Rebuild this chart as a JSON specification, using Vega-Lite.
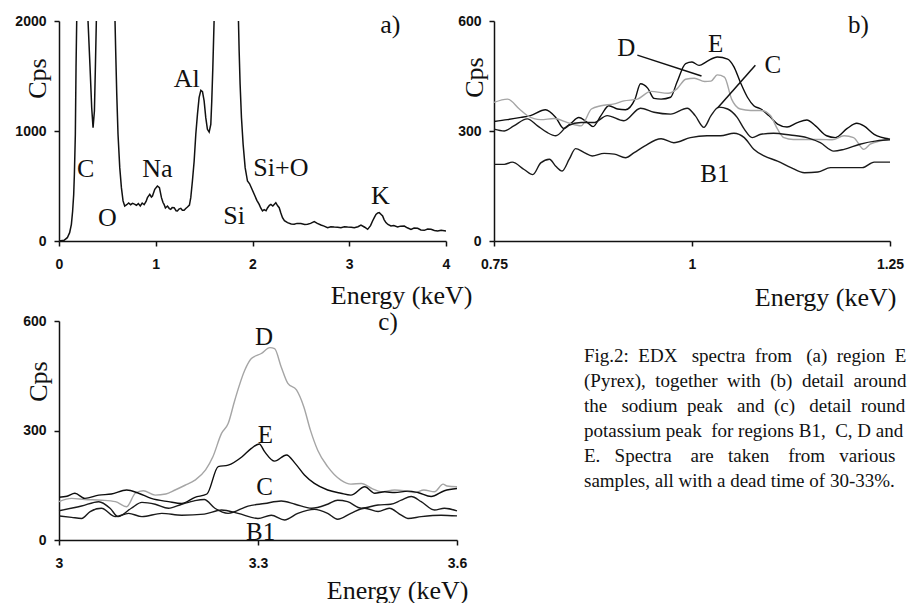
{
  "$schema": "https://vega.github.io/schema/vega-lite/v6.json",
  "background": "white",
  "padding": {"left": 14, "top": 11, "right": 0, "bottom": 0},
  "columns": 2,
  "bounds": "flush",
  "align": "each",
  "spacing": {"row": 80, "column": 37},
  "datasets": {
    "specA": [
      {"e":0,"cps":0},{"e":0.052,"cps":6},{"e":0.086,"cps":30},{"e":0.11,"cps":76},{"e":0.128,"cps":152},{"e":0.141,"cps":273},{"e":0.152,"cps":424},{"e":0.159,"cps":606},{"e":0.169,"cps":970},{"e":0.176,"cps":1576},{"e":0.183,"cps":2000},{"e":0.19,"cps":3500},{"e":0.293,"cps":3500},{"e":0.3,"cps":2000},{"e":0.321,"cps":1576},{"e":0.338,"cps":1212},{"e":0.352,"cps":1030},{"e":0.366,"cps":1182},{"e":0.376,"cps":1576},{"e":0.386,"cps":2000},{"e":0.393,"cps":3500},{"e":0.572,"cps":3500},{"e":0.579,"cps":2000},{"e":0.586,"cps":1727},{"e":0.597,"cps":1333},{"e":0.61,"cps":970},{"e":0.628,"cps":667},{"e":0.645,"cps":485},{"e":0.662,"cps":364},{"e":0.679,"cps":318},{"e":0.7,"cps":330},{"e":0.72,"cps":345},{"e":0.74,"cps":330},{"e":0.76,"cps":342},{"e":0.78,"cps":335},{"e":0.8,"cps":325},{"e":0.82,"cps":340},{"e":0.84,"cps":318},{"e":0.86,"cps":345},{"e":0.88,"cps":330},{"e":0.9,"cps":360},{"e":0.914,"cps":394},{"e":0.938,"cps":424},{"e":0.955,"cps":400},{"e":0.966,"cps":409},{"e":0.99,"cps":470},{"e":1.017,"cps":500},{"e":1.038,"cps":485},{"e":1.059,"cps":394},{"e":1.075,"cps":350},{"e":1.086,"cps":333},{"e":1.1,"cps":300},{"e":1.121,"cps":318},{"e":1.14,"cps":295},{"e":1.155,"cps":288},{"e":1.17,"cps":305},{"e":1.19,"cps":303},{"e":1.21,"cps":275},{"e":1.224,"cps":273},{"e":1.24,"cps":290},{"e":1.259,"cps":297},{"e":1.275,"cps":280},{"e":1.293,"cps":279},{"e":1.31,"cps":295},{"e":1.328,"cps":309},{"e":1.348,"cps":327},{"e":1.362,"cps":394},{"e":1.379,"cps":545},{"e":1.397,"cps":727},{"e":1.414,"cps":970},{"e":1.431,"cps":1151},{"e":1.448,"cps":1303},{"e":1.466,"cps":1370},{"e":1.483,"cps":1357},{"e":1.5,"cps":1273},{"e":1.517,"cps":1121},{"e":1.534,"cps":1015},{"e":1.552,"cps":991},{"e":1.569,"cps":1061},{"e":1.579,"cps":1273},{"e":1.59,"cps":1576},{"e":1.603,"cps":2000},{"e":1.61,"cps":3500},{"e":1.848,"cps":3500},{"e":1.855,"cps":2000},{"e":1.862,"cps":1727},{"e":1.872,"cps":1424},{"e":1.886,"cps":1121},{"e":1.903,"cps":879},{"e":1.924,"cps":667},{"e":1.948,"cps":545},{"e":1.97,"cps":520},{"e":1.995,"cps":470},{"e":2.02,"cps":420},{"e":2.045,"cps":370},{"e":2.069,"cps":333},{"e":2.085,"cps":300},{"e":2.103,"cps":273},{"e":2.12,"cps":285},{"e":2.14,"cps":275},{"e":2.155,"cps":300},{"e":2.175,"cps":325},{"e":2.19,"cps":333},{"e":2.21,"cps":318},{"e":2.241,"cps":348},{"e":2.26,"cps":320},{"e":2.276,"cps":303},{"e":2.293,"cps":255},{"e":2.31,"cps":212},{"e":2.33,"cps":185},{"e":2.362,"cps":167},{"e":2.4,"cps":155},{"e":2.431,"cps":152},{"e":2.46,"cps":160},{"e":2.5,"cps":158},{"e":2.54,"cps":150},{"e":2.569,"cps":152},{"e":2.6,"cps":160},{"e":2.638,"cps":176},{"e":2.67,"cps":160},{"e":2.707,"cps":145},{"e":2.74,"cps":135},{"e":2.776,"cps":121},{"e":2.81,"cps":130},{"e":2.845,"cps":127},{"e":2.88,"cps":125},{"e":2.914,"cps":121},{"e":2.95,"cps":130},{"e":2.983,"cps":127},{"e":3.02,"cps":125},{"e":3.052,"cps":121},{"e":3.09,"cps":130},{"e":3.121,"cps":145},{"e":3.16,"cps":125},{"e":3.19,"cps":106},{"e":3.22,"cps":140},{"e":3.241,"cps":182},{"e":3.26,"cps":215},{"e":3.276,"cps":242},{"e":3.295,"cps":255},{"e":3.31,"cps":258},{"e":3.33,"cps":240},{"e":3.345,"cps":227},{"e":3.36,"cps":195},{"e":3.379,"cps":167},{"e":3.4,"cps":150},{"e":3.431,"cps":136},{"e":3.46,"cps":140},{"e":3.5,"cps":127},{"e":3.53,"cps":135},{"e":3.569,"cps":136},{"e":3.6,"cps":120},{"e":3.638,"cps":106},{"e":3.67,"cps":118},{"e":3.707,"cps":115},{"e":3.74,"cps":100},{"e":3.776,"cps":97},{"e":3.81,"cps":108},{"e":3.845,"cps":106},{"e":3.88,"cps":95},{"e":3.914,"cps":91},{"e":3.95,"cps":98},{"e":4.0,"cps":91}
    ],
    "labA": [
      {"e":0.276,"cps":651,"t":"C"},{"e":0.5,"cps":212,"t":"O"},{"e":1.017,"cps":654,"t":"Na"},{"e":1.321,"cps":1470,"t":"Al"},{"e":2.293,"cps":661,"t":"Si+O"},{"e":1.81,"cps":224,"t":"Si"},{"e":3.321,"cps":409,"t":"K"},{"e":3.424,"cps":1964,"t":"a)"}
    ],
    "specB": [
      {"s":"E","e":0.75,"cps":326},{"s":"E","e":0.767,"cps":331},{"s":"E","e":0.784,"cps":337},{"s":"E","e":0.796,"cps":342},{"s":"E","e":0.815,"cps":358},{"s":"E","e":0.828,"cps":337},{"s":"E","e":0.838,"cps":307},{"s":"E","e":0.847,"cps":321},{"s":"E","e":0.857,"cps":337},{"s":"E","e":0.868,"cps":323},{"s":"E","e":0.875,"cps":312},{"s":"E","e":0.885,"cps":342},{"s":"E","e":0.895,"cps":369},{"s":"E","e":0.906,"cps":360},{"s":"E","e":0.916,"cps":358},{"s":"E","e":0.928,"cps":387},{"s":"E","e":0.935,"cps":429},{"s":"E","e":0.944,"cps":417},{"s":"E","e":0.952,"cps":389},{"s":"E","e":0.961,"cps":387},{"s":"E","e":0.973,"cps":392},{"s":"E","e":0.981,"cps":433},{"s":"E","e":0.992,"cps":484},{"s":"E","e":1.0,"cps":488},{"s":"E","e":1.009,"cps":479},{"s":"E","e":1.019,"cps":490},{"s":"E","e":1.032,"cps":502},{"s":"E","e":1.045,"cps":496},{"s":"E","e":1.053,"cps":475},{"s":"E","e":1.061,"cps":433},{"s":"E","e":1.07,"cps":392},{"s":"E","e":1.078,"cps":369},{"s":"E","e":1.087,"cps":360},{"s":"E","e":1.097,"cps":342},{"s":"E","e":1.108,"cps":319},{"s":"E","e":1.12,"cps":311},{"s":"E","e":1.133,"cps":323},{"s":"E","e":1.145,"cps":330},{"s":"E","e":1.156,"cps":314},{"s":"E","e":1.17,"cps":287},{"s":"E","e":1.181,"cps":282},{"s":"E","e":1.196,"cps":307},{"s":"E","e":1.208,"cps":321},{"s":"E","e":1.217,"cps":314},{"s":"E","e":1.23,"cps":291},{"s":"E","e":1.25,"cps":278},
      {"s":"D","e":0.75,"cps":378},{"s":"D","e":0.767,"cps":387},{"s":"D","e":0.782,"cps":360},{"s":"D","e":0.792,"cps":342},{"s":"D","e":0.809,"cps":331},{"s":"D","e":0.826,"cps":334},{"s":"D","e":0.843,"cps":323},{"s":"D","e":0.86,"cps":314},{"s":"D","e":0.873,"cps":360},{"s":"D","e":0.885,"cps":369},{"s":"D","e":0.902,"cps":374},{"s":"D","e":0.914,"cps":382},{"s":"D","e":0.931,"cps":387},{"s":"D","e":0.948,"cps":408},{"s":"D","e":0.97,"cps":403},{"s":"D","e":0.981,"cps":415},{"s":"D","e":0.992,"cps":441},{"s":"D","e":1.003,"cps":444},{"s":"D","e":1.016,"cps":435},{"s":"D","e":1.024,"cps":436},{"s":"D","e":1.032,"cps":453},{"s":"D","e":1.041,"cps":447},{"s":"D","e":1.05,"cps":387},{"s":"D","e":1.061,"cps":360},{"s":"D","e":1.074,"cps":356},{"s":"D","e":1.087,"cps":356},{"s":"D","e":1.099,"cps":342},{"s":"D","e":1.108,"cps":305},{"s":"D","e":1.116,"cps":282},{"s":"D","e":1.128,"cps":277},{"s":"D","e":1.145,"cps":277},{"s":"D","e":1.162,"cps":277},{"s":"D","e":1.177,"cps":276},{"s":"D","e":1.192,"cps":287},{"s":"D","e":1.204,"cps":282},{"s":"D","e":1.217,"cps":250},{"s":"D","e":1.225,"cps":264},{"s":"D","e":1.238,"cps":273},{"s":"D","e":1.25,"cps":278},
      {"s":"C","e":0.75,"cps":305},{"s":"C","e":0.763,"cps":300},{"s":"C","e":0.775,"cps":314},{"s":"C","e":0.792,"cps":333},{"s":"C","e":0.805,"cps":314},{"s":"C","e":0.817,"cps":296},{"s":"C","e":0.828,"cps":287},{"s":"C","e":0.843,"cps":314},{"s":"C","e":0.86,"cps":323},{"s":"C","e":0.876,"cps":323},{"s":"C","e":0.893,"cps":342},{"s":"C","e":0.914,"cps":328},{"s":"C","e":0.935,"cps":362},{"s":"C","e":0.952,"cps":351},{"s":"C","e":0.973,"cps":346},{"s":"C","e":0.994,"cps":362},{"s":"C","e":1.004,"cps":342},{"s":"C","e":1.015,"cps":310},{"s":"C","e":1.024,"cps":342},{"s":"C","e":1.034,"cps":365},{"s":"C","e":1.045,"cps":360},{"s":"C","e":1.057,"cps":337},{"s":"C","e":1.066,"cps":305},{"s":"C","e":1.076,"cps":282},{"s":"C","e":1.087,"cps":291},{"s":"C","e":1.103,"cps":294},{"s":"C","e":1.124,"cps":289},{"s":"C","e":1.145,"cps":282},{"s":"C","e":1.162,"cps":268},{"s":"C","e":1.179,"cps":245},{"s":"C","e":1.192,"cps":250},{"s":"C","e":1.212,"cps":264},{"s":"C","e":1.233,"cps":273},{"s":"C","e":1.25,"cps":276},
      {"s":"B1","e":0.75,"cps":209},{"s":"B1","e":0.763,"cps":209},{"s":"B1","e":0.773,"cps":215},{"s":"B1","e":0.788,"cps":195},{"s":"B1","e":0.799,"cps":181},{"s":"B1","e":0.809,"cps":213},{"s":"B1","e":0.82,"cps":223},{"s":"B1","e":0.828,"cps":204},{"s":"B1","e":0.836,"cps":191},{"s":"B1","e":0.845,"cps":223},{"s":"B1","e":0.853,"cps":252},{"s":"B1","e":0.864,"cps":241},{"s":"B1","e":0.874,"cps":232},{"s":"B1","e":0.889,"cps":239},{"s":"B1","e":0.902,"cps":237},{"s":"B1","e":0.916,"cps":227},{"s":"B1","e":0.927,"cps":241},{"s":"B1","e":0.94,"cps":259},{"s":"B1","e":0.961,"cps":279},{"s":"B1","e":0.977,"cps":268},{"s":"B1","e":0.998,"cps":282},{"s":"B1","e":1.019,"cps":287},{"s":"B1","e":1.036,"cps":287},{"s":"B1","e":1.053,"cps":294},{"s":"B1","e":1.066,"cps":282},{"s":"B1","e":1.078,"cps":250},{"s":"B1","e":1.091,"cps":232},{"s":"B1","e":1.108,"cps":218},{"s":"B1","e":1.125,"cps":200},{"s":"B1","e":1.142,"cps":186},{"s":"B1","e":1.159,"cps":188},{"s":"B1","e":1.175,"cps":200},{"s":"B1","e":1.196,"cps":200},{"s":"B1","e":1.215,"cps":200},{"s":"B1","e":1.23,"cps":215},{"s":"B1","e":1.25,"cps":215}
    ],
    "labB": [
      {"e":0.917,"cps":527,"t":"D"},{"e":1.03,"cps":538,"t":"E"},{"e":1.102,"cps":479,"t":"C"},{"e":1.029,"cps":184,"t":"B1"},{"e":1.21,"cps":589,"t":"b)"}
    ],
    "leadB": [
      {"e":0.931,"cps":507,"e2":1.012,"cps2":450},{"e":1.08,"cps":479,"e2":1.032,"cps2":362}
    ],
    "specC": [
      {"s":"D","e":3.0,"cps":105},{"s":"D","e":3.019,"cps":114},{"s":"D","e":3.039,"cps":111},{"s":"D","e":3.064,"cps":109},{"s":"D","e":3.085,"cps":105},{"s":"D","e":3.102,"cps":91},{"s":"D","e":3.115,"cps":128},{"s":"D","e":3.127,"cps":135},{"s":"D","e":3.145,"cps":123},{"s":"D","e":3.161,"cps":126},{"s":"D","e":3.175,"cps":137},{"s":"D","e":3.19,"cps":150},{"s":"D","e":3.205,"cps":164},{"s":"D","e":3.221,"cps":192},{"s":"D","e":3.232,"cps":228},{"s":"D","e":3.245,"cps":292},{"s":"D","e":3.255,"cps":319},{"s":"D","e":3.265,"cps":383},{"s":"D","e":3.28,"cps":465},{"s":"D","e":3.29,"cps":497},{"s":"D","e":3.305,"cps":511},{"s":"D","e":3.318,"cps":527},{"s":"D","e":3.325,"cps":524},{"s":"D","e":3.335,"cps":474},{"s":"D","e":3.345,"cps":429},{"s":"D","e":3.358,"cps":411},{"s":"D","e":3.369,"cps":365},{"s":"D","e":3.379,"cps":301},{"s":"D","e":3.39,"cps":246},{"s":"D","e":3.405,"cps":201},{"s":"D","e":3.425,"cps":164},{"s":"D","e":3.44,"cps":153},{"s":"D","e":3.456,"cps":155},{"s":"D","e":3.472,"cps":141},{"s":"D","e":3.485,"cps":132},{"s":"D","e":3.506,"cps":137},{"s":"D","e":3.52,"cps":135},{"s":"D","e":3.536,"cps":130},{"s":"D","e":3.55,"cps":137},{"s":"D","e":3.566,"cps":132},{"s":"D","e":3.579,"cps":153},{"s":"D","e":3.585,"cps":148},{"s":"D","e":3.6,"cps":146},
      {"s":"E","e":3.0,"cps":117},{"s":"E","e":3.012,"cps":120},{"s":"E","e":3.024,"cps":128},{"s":"E","e":3.039,"cps":114},{"s":"E","e":3.06,"cps":123},{"s":"E","e":3.079,"cps":126},{"s":"E","e":3.102,"cps":137},{"s":"E","e":3.12,"cps":128},{"s":"E","e":3.139,"cps":114},{"s":"E","e":3.165,"cps":105},{"s":"E","e":3.185,"cps":100},{"s":"E","e":3.205,"cps":117},{"s":"E","e":3.223,"cps":126},{"s":"E","e":3.24,"cps":201},{"s":"E","e":3.255,"cps":205},{"s":"E","e":3.276,"cps":228},{"s":"E","e":3.29,"cps":251},{"s":"E","e":3.302,"cps":263},{"s":"E","e":3.31,"cps":242},{"s":"E","e":3.325,"cps":216},{"s":"E","e":3.343,"cps":233},{"s":"E","e":3.356,"cps":210},{"s":"E","e":3.37,"cps":178},{"s":"E","e":3.385,"cps":155},{"s":"E","e":3.405,"cps":137},{"s":"E","e":3.425,"cps":128},{"s":"E","e":3.44,"cps":123},{"s":"E","e":3.461,"cps":146},{"s":"E","e":3.476,"cps":128},{"s":"E","e":3.491,"cps":132},{"s":"E","e":3.506,"cps":130},{"s":"E","e":3.526,"cps":134},{"s":"E","e":3.541,"cps":130},{"s":"E","e":3.561,"cps":119},{"s":"E","e":3.581,"cps":135},{"s":"E","e":3.6,"cps":141},
      {"s":"C","e":3.0,"cps":80},{"s":"C","e":3.034,"cps":93},{"s":"C","e":3.06,"cps":105},{"s":"C","e":3.077,"cps":87},{"s":"C","e":3.089,"cps":64},{"s":"C","e":3.109,"cps":87},{"s":"C","e":3.125,"cps":103},{"s":"C","e":3.145,"cps":98},{"s":"C","e":3.165,"cps":87},{"s":"C","e":3.185,"cps":98},{"s":"C","e":3.205,"cps":108},{"s":"C","e":3.219,"cps":111},{"s":"C","e":3.235,"cps":87},{"s":"C","e":3.255,"cps":73},{"s":"C","e":3.285,"cps":93},{"s":"C","e":3.31,"cps":100},{"s":"C","e":3.335,"cps":107},{"s":"C","e":3.356,"cps":98},{"s":"C","e":3.381,"cps":87},{"s":"C","e":3.405,"cps":98},{"s":"C","e":3.42,"cps":109},{"s":"C","e":3.435,"cps":105},{"s":"C","e":3.456,"cps":87},{"s":"C","e":3.481,"cps":96},{"s":"C","e":3.5,"cps":98},{"s":"C","e":3.516,"cps":109},{"s":"C","e":3.531,"cps":119},{"s":"C","e":3.546,"cps":105},{"s":"C","e":3.566,"cps":82},{"s":"C","e":3.581,"cps":87},{"s":"C","e":3.6,"cps":80},
      {"s":"B1","e":3.0,"cps":66},{"s":"B1","e":3.019,"cps":62},{"s":"B1","e":3.034,"cps":59},{"s":"B1","e":3.047,"cps":78},{"s":"B1","e":3.064,"cps":87},{"s":"B1","e":3.085,"cps":64},{"s":"B1","e":3.105,"cps":73},{"s":"B1","e":3.125,"cps":64},{"s":"B1","e":3.155,"cps":73},{"s":"B1","e":3.185,"cps":68},{"s":"B1","e":3.219,"cps":71},{"s":"B1","e":3.245,"cps":82},{"s":"B1","e":3.27,"cps":73},{"s":"B1","e":3.3,"cps":59},{"s":"B1","e":3.32,"cps":68},{"s":"B1","e":3.34,"cps":55},{"s":"B1","e":3.36,"cps":73},{"s":"B1","e":3.385,"cps":84},{"s":"B1","e":3.405,"cps":73},{"s":"B1","e":3.42,"cps":57},{"s":"B1","e":3.44,"cps":73},{"s":"B1","e":3.461,"cps":87},{"s":"B1","e":3.481,"cps":78},{"s":"B1","e":3.498,"cps":87},{"s":"B1","e":3.516,"cps":68},{"s":"B1","e":3.526,"cps":59},{"s":"B1","e":3.546,"cps":64},{"s":"B1","e":3.576,"cps":68},{"s":"B1","e":3.6,"cps":66}
    ],
    "labC": [
      {"e":3.309,"cps":556,"t":"D"},{"e":3.311,"cps":288,"t":"E"},{"e":3.31,"cps":144,"t":"C"},{"e":3.304,"cps":23,"t":"B1"},{"e":3.496,"cps":597,"t":"c)"}
    ]
  },
  "concat": [
    {
      "width": 387, "height": 220,
      "encoding": {
        "x": {"field": "e", "type": "quantitative", "scale": {"domain": [0, 4], "nice": false, "zero": false},
              "axis": {"values": [0, 1, 2, 3, 4], "format": "~f", "title": "Energy (keV)", "titleX": 413, "titleY": 62, "titleAlign": "right", "titleBaseline": "alphabetic"}},
        "y": {"field": "cps", "type": "quantitative", "scale": {"domain": [0, 2000], "nice": false},
              "axis": {"values": [0, 1000, 2000], "format": "~f", "title": "Cps", "titleAngle": -90, "titleX": -14, "titleY": 57, "titleAlign": "center", "titleBaseline": "alphabetic"}}
      },
      "layer": [
        {"data": {"name": "specA"}, "mark": {"type": "line", "clip": true, "color": "#111", "strokeWidth": 1.5}},
        {"data": {"name": "labA"}, "mark": {"type": "text", "font": "Liberation Serif", "fontSize": 26, "color": "#111", "baseline": "middle"}, "encoding": {"text": {"field": "t"}}}
      ]
    },
    {
      "width": 396, "height": 220,
      "encoding": {
        "x": {"field": "e", "type": "quantitative", "scale": {"domain": [0.75, 1.25], "nice": false, "zero": false},
              "axis": {"values": [0.75, 1, 1.25], "format": ".2~f", "title": "Energy (keV)", "titleX": 402, "titleY": 64, "titleAlign": "right", "titleBaseline": "alphabetic"}},
        "y": {"field": "cps", "type": "quantitative", "scale": {"domain": [0, 600], "nice": false},
              "axis": {"values": [0, 300, 600], "format": "~f", "title": "Cps", "titleAngle": -90, "titleX": -12, "titleY": 56, "titleAlign": "center", "titleBaseline": "alphabetic"}}
      },
      "layer": [
        {"data": {"name": "specB"}, "mark": {"type": "line", "interpolate": "monotone"},
         "encoding": {
           "color": {"field": "s", "type": "nominal", "scale": {"domain": ["B1", "C", "D", "E"], "range": ["#1a1a1a", "#1a1a1a", "#a5a5a5", "#0d0d0d"]}, "legend": null},
           "strokeWidth": {"field": "s", "type": "nominal", "scale": {"domain": ["B1", "C", "D", "E"], "range": [1.4, 1.4, 1.1, 2.8]}, "legend": null}
         }},
        {"data": {"name": "leadB"}, "mark": {"type": "rule", "color": "#111", "strokeWidth": 1.5}, "encoding": {"x2": {"field": "e2"}, "y2": {"field": "cps2"}}},
        {"data": {"name": "labB"}, "mark": {"type": "text", "font": "Liberation Serif", "fontSize": 25, "color": "#111", "baseline": "middle"}, "encoding": {"text": {"field": "t"}}}
      ]
    },
    {
      "width": 398, "height": 219,
      "encoding": {
        "x": {"field": "e", "type": "quantitative", "scale": {"domain": [3, 3.6], "nice": false, "zero": false},
              "axis": {"values": [3, 3.3, 3.6], "format": ".1~f", "title": "Energy (keV)", "titleX": 409, "titleY": 58, "titleAlign": "right", "titleBaseline": "alphabetic"}},
        "y": {"field": "cps", "type": "quantitative", "scale": {"domain": [0, 600], "nice": false},
              "axis": {"values": [0, 300, 600], "format": "~f", "title": "Cps", "titleAngle": -90, "titleX": -13, "titleY": 60, "titleAlign": "center", "titleBaseline": "alphabetic"}}
      },
      "layer": [
        {"data": {"name": "specC"}, "mark": {"type": "line", "interpolate": "monotone"},
         "encoding": {
           "color": {"field": "s", "type": "nominal", "scale": {"domain": ["B1", "C", "D", "E"], "range": ["#1a1a1a", "#1a1a1a", "#a5a5a5", "#0d0d0d"]}, "legend": null},
           "strokeWidth": {"field": "s", "type": "nominal", "scale": {"domain": ["B1", "C", "D", "E"], "range": [1.4, 1.4, 1.1, 2.8]}, "legend": null}
         }},
        {"data": {"name": "labC"}, "mark": {"type": "text", "font": "Liberation Serif", "fontSize": 25, "color": "#111", "baseline": "middle"}, "encoding": {"text": {"field": "t"}}}
      ]
    },
    {
      "width": 396, "height": 219,
      "data": {"values": []},
      "mark": {"type": "text"},
      "encoding": {},
      "title": {
        "text": [
          "Fig.2:\u00a0 EDX\u00a0\u00a0 spectra\u00a0 from\u00a0\u00a0 (a)\u00a0 region\u00a0 E",
          "(Pyrex),\u00a0 together\u00a0 with\u00a0 (b)\u00a0 detail\u00a0 around",
          "the\u00a0\u00a0 sodium\u00a0 peak\u00a0\u00a0 and\u00a0 (c)\u00a0\u00a0 detail\u00a0 round",
          "potassium peak\u00a0 for regions B1,\u00a0 C, D and",
          "E.\u00a0\u00a0 Spectra\u00a0\u00a0\u00a0 are\u00a0\u00a0 taken\u00a0\u00a0\u00a0 from\u00a0\u00a0 various",
          "samples, all with a dead time of 30-33%."
        ],
        "orient": "top", "anchor": "start", "frame": "group", "baseline": "top", "offset": 0, "dx": 90, "dy": 170,
        "font": "Liberation Serif", "fontSize": 19, "fontWeight": "normal", "color": "#111", "lineHeight": 25
      }
    }
  ],
  "config": {
    "view": {"stroke": null},
    "axis": {
      "grid": false, "domainColor": "#111", "domainWidth": 1.5, "tickColor": "#111", "tickWidth": 1.5, "tickSize": 5,
      "labelFont": "Liberation Sans", "labelFontWeight": "bold", "labelFontSize": 14, "labelColor": "#111",
      "labelFlush": false, "labelOverlap": false,
      "titleFont": "Liberation Serif", "titleFontWeight": "normal", "titleFontSize": 26, "titleColor": "#111"
    },
    "axisX": {"labelPadding": 11},
    "axisY": {"labelPadding": 8}
  }
}
